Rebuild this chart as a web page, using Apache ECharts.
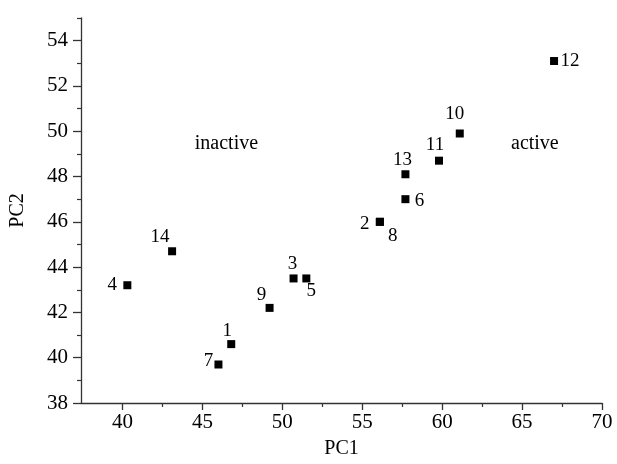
<!DOCTYPE html>
<html>
<head>
<meta charset="utf-8">
<script src="https://cdn.jsdelivr.net/npm/echarts@6/dist/echarts.min.js"></script>
<style>html,body{margin:0;padding:0;background:#fff}#c{width:617px;height:464px}</style>
</head>
<body>
<div id="c"></div>
<script>
// Data
const pointNames = ['1','2','3','4','5','6','7','8','9','10','11','12','13','14'];
const pc1Values  = [46.8, 56.1, 50.7, 40.3, 51.5, 57.7, 46.0, 56.1, 49.2, 61.1, 59.8, 67.0, 57.7, 43.1];
const pc2Values  = [40.6, 46.0, 43.5, 43.2, 43.5, 47.0, 39.7, 46.0, 42.2, 49.9, 48.7, 53.1, 48.1, 44.7];
const xTickLabels = [40, 45, 50, 55, 60, 65, 70];
const yTickLabels = [38, 40, 42, 44, 46, 48, 50, 52, 54];
const xMinorTicks = [42.5, 47.5, 52.5, 57.5, 62.5, 67.5];
const yMinorTicks = [39, 41, 43, 45, 47, 49, 51, 53, 55];
const dividerPC1 = 53.5;
const dividerPC2Range = [38, 55.3];
const regionNames = ['inactive', 'active'];
const regionPC1 = [46.5, 65.8];
const regionPC2 = [49.45, 49.45];

// label placement (style only)
const labelOffsets = {
  '1': [-4, -13], '2': [-15, 2], '3': [-1, -14], '4': [-15, 0], '5': [5, 13],
  '6': [14, 2], '7': [-10, -3], '8': [13, 14], '9': [-8, -13], '10': [-5, -19],
  '11': [-4, -16], '13': [-3, -14], '12': [16, 0], '14': [-12, -14]
};

const FONT = 'Liberation Serif';
const TXT = '#000';
const AX = '#333';

const pts = pointNames.map((n, i) => ({
  name: n,
  value: [pc1Values[i], pc2Values[i]],
  label: { offset: labelOffsets[n] || [0, 0] }
}));

const chart = echarts.init(document.getElementById('c'), null, { renderer: 'canvas' });
const xMin = 37.4, xMax = 70, yMin = 38, yMax = 55;
chart.setOption({
  animation: false,
  backgroundColor: '#fff',
  grid: { left: 81, right: 15, top: 18, bottom: 56 },
  xAxis: [{
    type: 'value', min: xMin, max: xMax,
    name: 'PC1', nameLocation: 'middle', nameGap: 36,
    nameTextStyle: { fontFamily: FONT, fontSize: 20, color: TXT },
    axisLine: { show: true, onZero: false, lineStyle: { color: AX, width: 1.3 } },
    axisTick: { show: true, inside: false, length: 7, customValues: xTickLabels, lineStyle: { color: AX, width: 1.3 } },
    axisLabel: { show: true, customValues: xTickLabels, margin: 9, fontFamily: FONT, fontSize: 21, color: TXT },
    splitLine: { show: false }
  }, {
    type: 'value', min: xMin, max: xMax, position: 'bottom',
    axisLine: { show: false },
    axisTick: { show: true, length: 4, customValues: xMinorTicks, lineStyle: { color: AX, width: 1.2 } },
    axisLabel: { show: false },
    splitLine: { show: false }
  }],
  yAxis: [{
    type: 'value', min: yMin, max: yMax,
    name: 'PC2', nameLocation: 'middle', nameGap: 53, nameRotate: 90,
    nameTextStyle: { fontFamily: FONT, fontSize: 20, color: TXT },
    axisLine: { show: true, onZero: false, lineStyle: { color: AX, width: 1.3 } },
    axisTick: { show: true, length: 8, customValues: yTickLabels, lineStyle: { color: AX, width: 1.3 } },
    axisLabel: { show: true, customValues: yTickLabels, margin: 13, fontFamily: FONT, fontSize: 21, color: TXT },
    splitLine: { show: false }
  }, {
    type: 'value', min: yMin, max: yMax, position: 'left',
    axisLine: { show: false },
    axisTick: { show: true, length: 4, customValues: yMinorTicks, lineStyle: { color: AX, width: 1.2 } },
    axisLabel: { show: false },
    splitLine: { show: false }
  }],
  series: [{
    type: 'scatter',
    xAxisIndex: 0, yAxisIndex: 0,
    symbol: 'rect', symbolSize: 8,
    itemStyle: { color: '#000', opacity: 1 },
    clip: false,
    label: {
      show: true, position: 'inside', formatter: '{b}',
      fontFamily: FONT, fontSize: 19, color: TXT,
      align: 'center', verticalAlign: 'middle'
    },
    emphasis: { disabled: true },
    data: pts,
    markLine: {
      silent: true, symbol: 'none',
      lineStyle: { color: '#555', width: 2, type: 'solid', opacity: 1 },
      label: { show: false },
      data: [[{ coord: [dividerPC1, dividerPC2Range[0]] }, { coord: [dividerPC1, dividerPC2Range[1]] }]]
    },
    markPoint: {
      silent: true, symbol: 'circle', symbolSize: 0,
      label: { show: true, formatter: '{b}', position: 'inside', fontFamily: FONT, fontSize: 20, color: TXT },
      data: regionNames.map((n, i) => ({ name: n, coord: [regionPC1[i], regionPC2[i]] }))
    }
  }]
});
</script>
</body>
</html>
